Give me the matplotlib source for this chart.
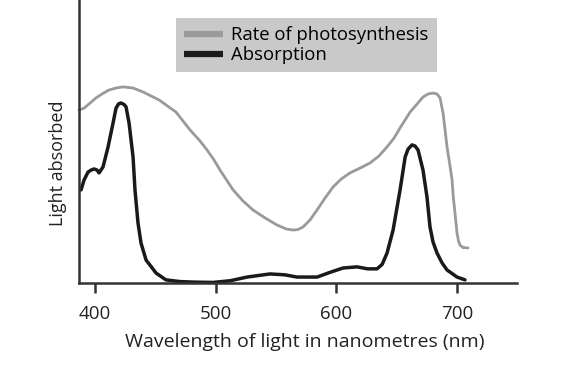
import matplotlib
matplotlib.use("Agg")
import matplotlib.pyplot as plt

plt.rcParams['font.family'] = ['Open Sans', 'DejaVu Sans']

# Rate of photosynthesis (wavelength nm, relative units)
photo_nm = [386.7, 390.9, 395.9, 400.8, 405.8, 411.6, 417.4, 423.2, 431.5, 439.8,
            453.0, 467.1, 478.7, 487.0, 492.8, 498.6, 503.6, 514.4, 522.6, 530.9,
            540.9, 550.8, 558.3, 564.1, 568.2, 572.4, 578.2, 584.0, 590.6, 597.2,
            603.9, 611.3, 619.6, 627.9, 635.3, 642.0, 647.8, 652.8, 661.1, 667.0,
            671.8, 676.0, 680.1, 683.4, 685.9, 688.4, 690.1, 691.7, 693.8, 695.9,
            696.9, 698.3, 700.0, 701.2, 702.5, 705.0, 709.1]
photo_val = [6.11, 6.18, 6.36, 6.54, 6.68, 6.82, 6.89, 6.93, 6.89, 6.75,
             6.47, 6.04, 5.41, 5.02, 4.70, 4.35, 3.99, 3.29, 2.90, 2.58,
             2.30, 2.05, 1.91, 1.87, 1.89, 1.98, 2.23, 2.58, 3.00, 3.39,
             3.67, 3.89, 4.06, 4.24, 4.49, 4.81, 5.12, 5.48, 6.04, 6.33,
             6.57, 6.68, 6.71, 6.68, 6.54, 6.01, 5.41, 4.81, 4.24, 3.64,
             3.04, 2.47, 1.77, 1.48, 1.34, 1.25, 1.24]

# Absorption (wavelength nm, relative units)
abs_nm = [388.4, 390.9, 394.2, 396.7, 399.2, 401.7, 403.3, 406.6, 410.8, 414.9,
          417.4, 419.5, 421.5, 424.0, 425.7, 428.2, 431.5, 433.1, 435.6, 438.1,
          442.3, 450.6, 458.8, 470.4, 483.0, 497.8, 512.0, 526.0, 545.0, 557.0,
          567.4, 584.0, 595.0, 605.5, 617.1, 626.0, 633.7, 638.0, 642.0, 647.0,
          652.8, 657.0, 659.4, 662.7, 665.2, 667.7, 671.8, 675.1, 677.6, 680.1,
          683.4, 687.6, 691.7, 700.0, 706.6]
abs_val = [3.29, 3.64, 3.92, 3.99, 4.03, 3.99, 3.89, 4.10, 4.81, 5.65,
           6.18, 6.33, 6.36, 6.31, 6.22, 5.65, 4.45, 3.29, 2.12, 1.41,
           0.81, 0.35, 0.11, 0.05, 0.03, 0.02, 0.08, 0.21, 0.32, 0.29,
           0.21, 0.21, 0.38, 0.53, 0.57, 0.50, 0.50, 0.66, 1.06, 1.87,
           3.29, 4.45, 4.73, 4.88, 4.84, 4.70, 3.99, 3.04, 1.98, 1.45,
           1.06, 0.71, 0.46, 0.21, 0.11]

xticks = [400, 500, 600, 700]
series_labels = ["Rate of photosynthesis", "Absorption"]
x_label = "Wavelength of light in nanometres (nm)"
y_label = "Light absorbed"

fig = plt.figure(figsize=(5.82, 3.65), dpi=100)
ax = fig.add_axes([79/582, (365-283)/365, (517-79)/582, 283/365])

ax.plot(photo_nm, photo_val, color='#9a9a9a', lw=2.0, solid_capstyle='round',
        solid_joinstyle='round', label=series_labels[0], clip_on=False)
ax.plot(abs_nm, abs_val, color='#1a1a1a', lw=2.5, solid_capstyle='round',
        solid_joinstyle='round', label=series_labels[1], clip_on=False)

ax.set_xlim(386.7, 749.7)
ax.set_ylim(0, 10)
ax.set_xticks(xticks)
ax.set_yticks([])
for s in ['top', 'right']:
    ax.spines[s].set_visible(False)
for s in ['left', 'bottom']:
    ax.spines[s].set_linewidth(1.8)
    ax.spines[s].set_color('#333333')
ax.tick_params(axis='x', direction='out', length=7, width=1.8, color='#333333',
               labelsize=13.5, labelcolor='#222222', pad=9)
ax.set_xlabel(x_label, fontsize=14, color='#222222', labelpad=7)
ax.xaxis.label.set_x((305 - 79) / 438)
ax.set_ylabel(y_label, fontsize=13, color='#222222', labelpad=8.5)
ax.yaxis.label.set_y((283 - 163) / 283)

leg = ax.legend(loc='upper left', bbox_to_anchor=((176-79)/438, 1 - 18/283),
                frameon=True, fancybox=False, facecolor='#c9c9c9', edgecolor='none',
                framealpha=1, fontsize=13.3, labelspacing=0.1, handlelength=2.1,
                handletextpad=0.43, borderpad=0.45, borderaxespad=0)
for h in leg.get_lines():
    h.set_linewidth(4.5)
    h.set_solid_capstyle('butt')

fig.savefig('out.png', dpi=100)
